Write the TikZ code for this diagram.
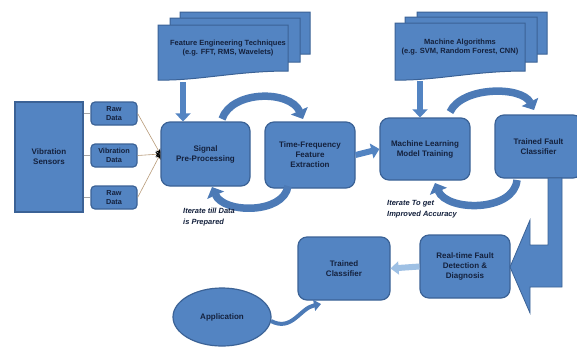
\documentclass[tikz,border=0pt]{standalone}
\usepackage{fontspec}
\setmainfont{Liberation Sans}
\usetikzlibrary{arrows.meta,calc,shapes.geometric}
\definecolor{blu}{HTML}{5384C2}
\definecolor{bdr}{HTML}{3B6296}
\definecolor{txt}{HTML}{14213D}
\definecolor{lblu}{HTML}{9EC0E4}
\definecolor{loopc}{HTML}{4C7AB6}
\definecolor{tanl}{HTML}{B89A78}
\newcommand\mydoc[4]{%
  \filldraw[docpage] (#1,#2) -- (#3,#2) -- (#3,#4-9)
    .. controls ($(#3,#4-9)!0.4!(#1,#4-9)$) and ($(#1,#4)!0.3!(#3,#4)+(0,1)$) .. (#1,#4) -- cycle;}
\tikzset{
  docpage/.style={fill=blu, draw=bdr, line width=1pt},
  box/.style={draw=bdr, line width=1.2pt, fill=blu, rounded corners=9pt, align=center,
    text=txt, font=\bfseries\fontsize{8}{10}\selectfont, inner sep=2pt},
  rawbox/.style={box, rounded corners=4pt, font=\bfseries\fontsize{7.3}{8.5}\selectfont,
    minimum width=46pt, minimum height=23pt},
  doctext/.style={align=center, text=txt, font=\bfseries\fontsize{7.5}{9.5}\selectfont},
  itertext/.style={align=left, text=txt, anchor=north west,
    font=\bfseries\itshape\fontsize{7.5}{11}\selectfont, inner sep=0pt},
  loopar/.style={draw=loopc, line width=7.5pt, -{Triangle[width=18pt,length=9pt]}},
  blockar/.style={draw=blu, line width=6pt, -{Triangle[width=15pt,length=8pt]}},
  thinl/.style={draw=tanl, line width=0.6pt},
}
\begin{document}
\begin{tikzpicture}[x=1pt,y=-1pt]
\useasboundingbox[fill=white] (0,0) rectangle (577,349);

% document stacks
\mydoc{180}{12}{310}{63}
\mydoc{170}{18}{300}{71}
\mydoc{158}{25}{288}{80}
\node[doctext] (fet) at (228,48) {Feature Engineering Techniques\\(e.g. FFT, RMS, Wavelets)};
\coordinate (fetb) at (183,82);

\mydoc{417}{12}{547}{63}
\mydoc{405}{17}{537}{71}
\mydoc{395}{23}{525}{80}
\node[doctext] (mal) at (460,47) {Machine Algorithms\\(e.g. SVM, Random Forest, CNN)};
\coordinate (malb) at (420,81);

% left part
\node[box, rounded corners=0pt, minimum width=68pt, minimum height=110pt] (vs) at (49,157) {Vibration\\Sensors};
\node[rawbox] (r1) at (114,113.5) {Raw\\Data};
\node[rawbox] (r2) at (114,155.5) {Vibration\\Data};
\node[rawbox] (r3) at (114,197.5) {Raw\\Data};

% main boxes
\node[box, minimum width=89pt, minimum height=64pt] (sig) at (205.5,154) {Signal\\Pre-Processing};
\node[box, minimum width=90pt, minimum height=66pt] (tf) at (310,155) {Time-Frequency\\Feature\\Extraction};
\node[box, minimum width=90pt, minimum height=62pt] (ml) at (425,149) {Machine Learning\\Model Training};
\node[box, minimum width=87pt, minimum height=63pt] (tfc) at (538.5,146.5) {Trained Fault\\Classifier};
\node[box, minimum width=90pt, minimum height=63pt] (rt) at (465,266.5) {Real-time Fault\\Detection \&\\Diagnosis};
\node[box, minimum width=92pt, minimum height=63pt] (tc) at (344,268.5) {Trained\\Classifier};
\node[draw=bdr, line width=1.2pt, fill=blu, ellipse, minimum width=98pt, minimum height=58pt,
  text=txt, font=\bfseries\fontsize{8}{10}\selectfont] (app) at (222,317) {Application};

% sensor to raw data
\draw[draw=gray!70, line width=0.5pt] (vs.east |- r1.west) -- (r1.west);
\draw[draw=gray!70, line width=0.5pt] (vs.east |- r2.west) -- (r2.west);
\draw[draw=gray!70, line width=0.5pt] (vs.east |- r3.west) -- (r3.west);

% raw data to signal
\draw[thinl, -{Stealth[black,length=5pt,width=5pt]}] (r1.east) -- (sig.west);
\draw[thinl, -{Stealth[black,length=5pt,width=5pt]}] (r2.east) -- (sig.west);
\draw[thinl, -{Stealth[black,length=5pt,width=5pt]}] (r3.east) -- (sig.west);

% down arrows
\draw[blockar] (fetb) -- (fetb |- sig.north);
\draw[blockar] (malb) -- (malb |- ml.north);
\draw[blockar] (tf.east) -- (ml.west);

% loops
\coordinate (l1a) at (222,119);
\coordinate (l1b) at (303,119);
\coordinate (l2a) at (288,186);
\coordinate (l2b) at (212,187);
\coordinate (l3a) at (450,112);
\coordinate (l3b) at (534,110);
\coordinate (l4a) at (517,180);
\coordinate (l4b) at (435,183);
\draw[loopar] (l1a) .. controls (232,90) and (290,90) .. (l1b);
\draw[loopar] (l2a) .. controls (284,214) and (224,214) .. (l2b);
\draw[loopar] (l3a) .. controls (462,86) and (522,86) .. (l3b);
\draw[loopar] (l4a) .. controls (514,212) and (447,212) .. (l4b);

% iterate texts
\node[itertext] (it1) at (183,208) {Iterate till Data\\is Prepared};
\node[itertext] (it2) at (387,200) {Iterate To get\\Improved Accuracy};

% big bent arrow
\filldraw[fill=blu, draw=bdr, line width=0.8pt] (548,178) -- (562,178) -- (562,287) -- (530,287)
  -- (530,313) -- (510,267) -- (530,220) -- (530,245) -- (548,245) -- cycle;

% small arrow RT -> TC
\draw[draw=lblu, line width=6pt, -{Triangle[width=13pt,length=8pt]}] (rt.west) -- (tc.east);

% application arrow
\coordinate (apa) at (271,321);
\coordinate (apb) at (321,304);
\draw[draw=loopc, line width=4pt, -{Triangle[width=11pt,length=7pt]}] (apa) .. controls (292,332) and (300,308) .. (apb);
\end{tikzpicture}
\end{document}
